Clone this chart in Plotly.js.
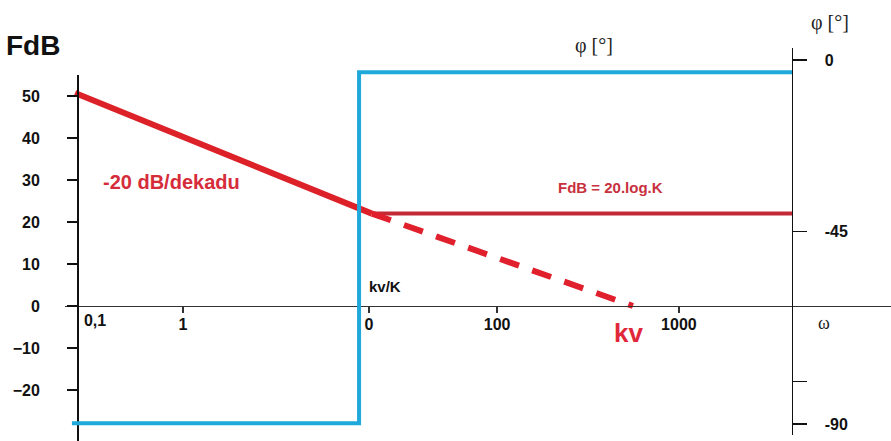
<!DOCTYPE html>
<html><head><meta charset="utf-8">
<script src="https://cdn.plot.ly/plotly-3.0.1.min.js"></script>
<style>html,body{margin:0;padding:0;background:#fff}#chart{width:891px;height:441px}</style>
</head><body><div id="chart"></div>
<script>
// Schematic log-ω axis: positions in decades as drawn in the picture
const xTickPos = [0, 1.125, 1.90, 3];
const xTickText = ['1', '0', '100', '1000'];
const xExtraPos = [-0.532];
const xExtraText = ['0,1'];
const dbTicks = [-20, -10, 0, 10, 20, 30, 40, 50];
const phaseTickPos = [0, -42.5, -79.4, -90];
const phaseTickText = ['0', '-45', '', '-90'];

// Magnitude (dB)
const slopeX = [-0.653, 1.143];
const slopeDb = [50.7, 22];
const flatX = [1.143, 3.684];
const flatDb = [22, 22];
const dashX = [1.143, 2.722];
const dashDb = [22, 0];
// Phase (deg)
const phaseX = [-0.672, 1.065, 1.065, 3.684];
const phaseDeg = [-89.8, -89.8, -3, -3];

const TF = 'Liberation Sans Narrow, Liberation Sans, Arial, sans-serif';
const xr = [-0.7139, 4.283];

const traces = [
  {x: phaseX, y: phaseDeg, xaxis: 'x', yaxis: 'y2', mode: 'lines', line: {color: '#1fa8da', width: 4}, hoverinfo: 'skip'},
  {x: slopeX, y: slopeDb, xaxis: 'x', yaxis: 'y', mode: 'lines', line: {color: '#dc2128', width: 6}, hoverinfo: 'skip'},
  {x: flatX, y: flatDb, xaxis: 'x', yaxis: 'y', mode: 'lines', line: {color: '#c42a36', width: 4}, hoverinfo: 'skip'},
  {x: dashX, y: dashDb, xaxis: 'x', yaxis: 'y', mode: 'lines', line: {color: '#e0202c', width: 6, dash: '20px,14px'}, hoverinfo: 'skip'},
  {x: [null], y: [null], xaxis: 'x2', yaxis: 'y', mode: 'none', hoverinfo: 'skip'}
];

const tickFont = {family: TF, size: 16, color: '#111', weight: 'bold'};

const layout = {
  width: 891, height: 441,
  margin: {l: 65, r: 0, t: 40, b: 0},
  showlegend: false,
  paper_bgcolor: '#fff', plot_bgcolor: 'rgba(0,0,0,0)',
  xaxis: {range: xr, domain: [0, 1], anchor: 'free', position: 0.3367,
    showline: true, linecolor: '#333', linewidth: 1.5, ticks: 'outside', ticklen: 6, tickcolor: '#333', tickwidth: 1.5,
    tickmode: 'array', tickvals: xTickPos, ticktext: xTickText, tickfont: tickFont,
    showgrid: false, zeroline: false, ticklabelstandoff: -3},
  xaxis2: {range: xr, overlaying: 'x', anchor: 'free', position: 0.3367,
    showline: false, ticks: '', tickmode: 'array', tickvals: xExtraPos, ticktext: xExtraText, tickfont: tickFont,
    showgrid: false, zeroline: false, ticklabelstandoff: 3},
  yaxis: {domain: [0, 0.9127], range: [-32.14, 55], anchor: 'free', position: 0.01453,
    showline: true, linecolor: '#111', linewidth: 1.5, ticks: 'outside', ticklen: 10, tickcolor: '#111', tickwidth: 1.2,
    tickmode: 'array', tickvals: dbTicks, tickfont: tickFont,
    showgrid: false, zeroline: false, ticklabelstandoff: 24},
  yaxis2: {domain: [0.01496, 0.98], range: [-92.73, 2.967], anchor: 'free', position: 0.8801, side: 'right',
    showline: true, linecolor: '#111', linewidth: 1.5, ticks: 'outside', ticklen: 14, tickcolor: '#111', tickwidth: 1.2,
    tickmode: 'array', tickvals: phaseTickPos, ticktext: phaseTickText, tickfont: tickFont,
    showgrid: false, zeroline: false, ticklabelstandoff: 14},
  annotations: [
    {text: 'FdB', xref: 'paper', yref: 'paper', x: -0.0387, y: 0.9875, xanchor: 'center', yanchor: 'middle', showarrow: false,
     font: {family: TF, size: 28, color: '#111', weight: 'bold'}},
    {text: 'φ [°]', xref: 'paper', yref: 'paper', x: 0.926, y: 1.0424, xanchor: 'center', yanchor: 'middle', showarrow: false,
     font: {family: 'Liberation Serif, serif', size: 20, color: '#222'}},
    {text: 'φ [°]', xref: 'paper', yref: 'paper', x: 0.6404, y: 0.9875, xanchor: 'center', yanchor: 'middle', showarrow: false,
     font: {family: 'Liberation Serif, serif', size: 20, color: '#222'}},
    {text: 'ω', xref: 'paper', yref: 'paper', x: 0.9189, y: 0.2943, xanchor: 'center', yanchor: 'middle', showarrow: false,
     font: {family: 'Liberation Serif, serif', size: 18, color: '#222'}},
    {text: '-20 dB/dekadu', xref: 'paper', yref: 'paper', x: 0.1295, y: 0.6459, xanchor: 'center', yanchor: 'middle', showarrow: false,
     font: {family: TF, size: 20, color: '#d62c3a', weight: 'bold'}},
    {text: 'FdB = 20.log.K', xref: 'paper', yref: 'paper', x: 0.661, y: 0.6334, xanchor: 'center', yanchor: 'middle', showarrow: false,
     font: {family: TF, size: 15, color: '#c8303e', weight: 'bold'}},
    {text: 'kv/K', xref: 'paper', yref: 'paper', x: 0.3874, y: 0.3865, xanchor: 'center', yanchor: 'middle', showarrow: false,
     font: {family: TF, size: 15, color: '#111', weight: 'bold'}},
    {text: 'kv', xref: 'paper', yref: 'paper', x: 0.6828, y: 0.2693, xanchor: 'center', yanchor: 'middle', showarrow: false,
     font: {family: TF, size: 26, color: '#e0283a', weight: 'bold'}}
  ]
};

Plotly.newPlot('chart', traces, layout, {staticPlot: true, displayModeBar: false});
</script>
</body></html>
